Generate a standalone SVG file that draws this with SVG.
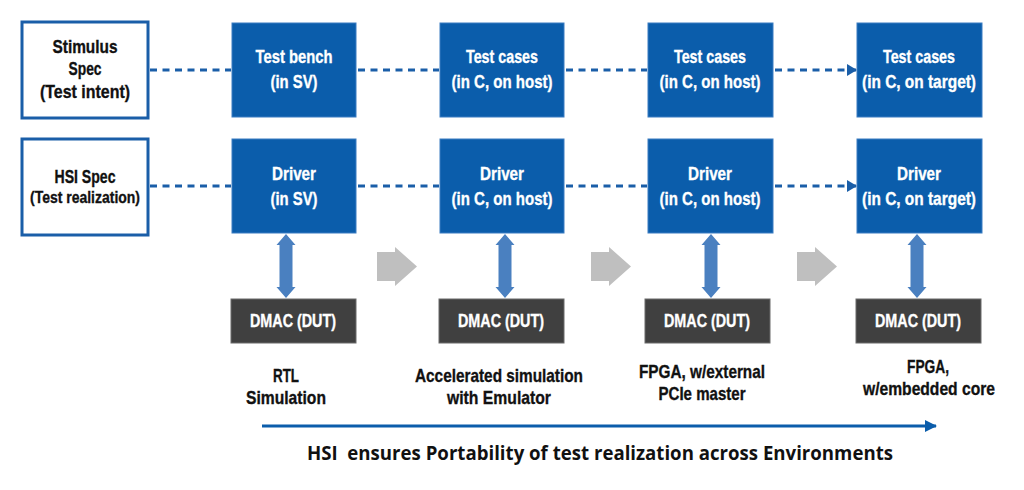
<svg xmlns="http://www.w3.org/2000/svg" width="1024" height="490" viewBox="0 0 1024 490">
<defs>
<style>
.spec{fill:#fff;stroke:#1a5ea8;stroke-width:3}
.blue{fill:#0b5dab;stroke:#3b7cc2;stroke-width:1}
.dut{fill:#404040;stroke:#6a6a6a;stroke-width:1}
.t{font-family:"Liberation Sans",Arial,sans-serif;font-weight:bold;text-anchor:middle}
.w{fill:#fff;stroke:#fff;stroke-width:0.35;font-size:19px}
.k{fill:#111;stroke:#111;stroke-width:0.35;font-size:19px}
.dash{stroke:#1a5ea8;stroke-width:3;stroke-dasharray:7 5.5;fill:none}
.dbl{fill:#4a80c0}
.gray{fill:#bfbfbf}
</style>
<marker id="ah" markerWidth="10" markerHeight="12" refX="9" refY="6" orient="auto" markerUnits="userSpaceOnUse">
<path d="M0,0 L10,6 L0,12 Z" fill="#1a5ea8"/>
</marker>
<marker id="ah2" markerWidth="12" markerHeight="12" refX="11" refY="6" orient="auto" markerUnits="userSpaceOnUse">
<path d="M0,0 L12,6 L0,12 Z" fill="#0b5dab"/>
</marker>
</defs>
<rect width="1024" height="490" fill="#fff"/>

<g id="connectors">
<line class="dash" x1="150" y1="70" x2="231" y2="70"/>
<line class="dash" x1="358" y1="70" x2="439" y2="70"/>
<line class="dash" x1="566" y1="70" x2="647" y2="70"/>
<line class="dash" x1="775" y1="70" x2="856" y2="70" marker-end="url(#ah)"/>
<line class="dash" x1="150" y1="186" x2="231" y2="186"/>
<line class="dash" x1="358" y1="186" x2="439" y2="186"/>
<line class="dash" x1="566" y1="186" x2="647" y2="186"/>
<line class="dash" x1="775" y1="186" x2="856" y2="186" marker-end="url(#ah)"/>
<path class="dbl" d="M286,234 L295.5,245 L292.5,245 L292.5,287 L295.5,287 L286,298 L276.5,287 L279.5,287 L279.5,245 L276.5,245 Z"/>
<path class="dbl" d="M505,234 L514.5,245 L511.5,245 L511.5,287 L514.5,287 L505,298 L495.5,287 L498.5,287 L498.5,245 L495.5,245 Z"/>
<path class="dbl" d="M711,234 L720.5,245 L717.5,245 L717.5,287 L720.5,287 L711,298 L701.5,287 L704.5,287 L704.5,245 L701.5,245 Z"/>
<path class="dbl" d="M917,234 L926.5,245 L923.5,245 L923.5,287 L926.5,287 L917,298 L907.5,287 L910.5,287 L910.5,245 L907.5,245 Z"/>
<path class="gray" d="M377,252 L395,252 L395,247 L417,266.5 L395,286 L395,281 L377,281 Z"/>
<path class="gray" d="M591,252 L609,252 L609,247 L631,266.5 L609,286 L609,281 L591,281 Z"/>
<path class="gray" d="M797,252 L815,252 L815,247 L837,266.5 L815,286 L815,281 L797,281 Z"/>
<line x1="262" y1="426" x2="936" y2="426" stroke="#0b5dab" stroke-width="3" marker-end="url(#ah2)"/>
</g>

<g id="stimulus-spec">
<rect class="spec" x="22" y="22" width="126" height="96"/>
<text class="t k" x="85" y="53" textLength="65" lengthAdjust="spacingAndGlyphs">Stimulus</text>
<text class="t k" x="85" y="75" textLength="33" lengthAdjust="spacingAndGlyphs">Spec</text>
<text class="t k" x="85" y="98" textLength="90" lengthAdjust="spacingAndGlyphs">(Test intent)</text>
</g>
<g id="hsi-spec">
<rect class="spec" x="22" y="139" width="126" height="96"/>
<text class="t k" x="85" y="183" textLength="61" lengthAdjust="spacingAndGlyphs">HSI Spec</text>
<text class="t k" x="85" y="203" style="font-size:17px" textLength="110" lengthAdjust="spacingAndGlyphs">(Test realization)</text>
</g>

<g id="testbench">
<rect class="blue" x="232" y="23" width="124" height="94"/>
<text class="t w" x="294" y="63" textLength="77" lengthAdjust="spacingAndGlyphs">Test bench</text>
<text class="t w" x="294" y="88" textLength="47" lengthAdjust="spacingAndGlyphs">(in SV)</text>
</g>
<g id="testcases-host1">
<rect class="blue" x="440" y="23" width="124" height="94"/>
<text class="t w" x="502" y="63" textLength="72" lengthAdjust="spacingAndGlyphs">Test cases</text>
<text class="t w" x="502" y="88" textLength="101" lengthAdjust="spacingAndGlyphs">(in C, on host)</text>
</g>
<g id="testcases-host2">
<rect class="blue" x="648" y="23" width="125" height="94"/>
<text class="t w" x="710" y="63" textLength="72" lengthAdjust="spacingAndGlyphs">Test cases</text>
<text class="t w" x="710" y="88" textLength="101" lengthAdjust="spacingAndGlyphs">(in C, on host)</text>
</g>
<g id="testcases-target">
<rect class="blue" x="857" y="23" width="125" height="94"/>
<text class="t w" x="919" y="63" textLength="72" lengthAdjust="spacingAndGlyphs">Test cases</text>
<text class="t w" x="919" y="88" textLength="114" lengthAdjust="spacingAndGlyphs">(in C, on target)</text>
</g>

<g id="driver-sv">
<rect class="blue" x="232" y="139" width="124" height="94"/>
<text class="t w" x="294" y="180" textLength="44" lengthAdjust="spacingAndGlyphs">Driver</text>
<text class="t w" x="294" y="205" textLength="47" lengthAdjust="spacingAndGlyphs">(in SV)</text>
</g>
<g id="driver-host1">
<rect class="blue" x="440" y="139" width="124" height="94"/>
<text class="t w" x="502" y="180" textLength="44" lengthAdjust="spacingAndGlyphs">Driver</text>
<text class="t w" x="502" y="205" textLength="101" lengthAdjust="spacingAndGlyphs">(in C, on host)</text>
</g>
<g id="driver-host2">
<rect class="blue" x="648" y="139" width="125" height="94"/>
<text class="t w" x="710" y="180" textLength="44" lengthAdjust="spacingAndGlyphs">Driver</text>
<text class="t w" x="710" y="205" textLength="101" lengthAdjust="spacingAndGlyphs">(in C, on host)</text>
</g>
<g id="driver-target">
<rect class="blue" x="857" y="139" width="125" height="94"/>
<text class="t w" x="919" y="180" textLength="44" lengthAdjust="spacingAndGlyphs">Driver</text>
<text class="t w" x="919" y="205" textLength="114" lengthAdjust="spacingAndGlyphs">(in C, on target)</text>
</g>

<g id="dut1">
<rect class="dut" x="231" y="299" width="125" height="44"/>
<text class="t w" x="293" y="327" style="font-size:18px" textLength="86" lengthAdjust="spacingAndGlyphs">DMAC (DUT)</text>
</g>
<g id="dut2">
<rect class="dut" x="439" y="299" width="125" height="44"/>
<text class="t w" x="501" y="327" style="font-size:18px" textLength="86" lengthAdjust="spacingAndGlyphs">DMAC (DUT)</text>
</g>
<g id="dut3">
<rect class="dut" x="645" y="299" width="125" height="44"/>
<text class="t w" x="707" y="327" style="font-size:18px" textLength="86" lengthAdjust="spacingAndGlyphs">DMAC (DUT)</text>
</g>
<g id="dut4">
<rect class="dut" x="856" y="299" width="125" height="44"/>
<text class="t w" x="918" y="327" style="font-size:18px" textLength="86" lengthAdjust="spacingAndGlyphs">DMAC (DUT)</text>
</g>

<g id="labels">
<text class="t k" x="286" y="382" textLength="26" lengthAdjust="spacingAndGlyphs">RTL</text>
<text class="t k" x="286" y="404" textLength="80" lengthAdjust="spacingAndGlyphs">Simulation</text>
<text class="t k" x="499" y="382" textLength="168" lengthAdjust="spacingAndGlyphs">Accelerated simulation</text>
<text class="t k" x="499" y="404" textLength="104" lengthAdjust="spacingAndGlyphs">with Emulator</text>
<text class="t k" x="702" y="378" textLength="126" lengthAdjust="spacingAndGlyphs">FPGA, w/external</text>
<text class="t k" x="702" y="400" textLength="87" lengthAdjust="spacingAndGlyphs">PCIe master</text>
<text class="t k" x="928" y="373" textLength="42" lengthAdjust="spacingAndGlyphs">FPGA,</text>
<text class="t k" x="929" y="395" textLength="132" lengthAdjust="spacingAndGlyphs">w/embedded core</text>
<text x="600" y="460" style="font-family:'Open Sans','Liberation Sans',sans-serif;font-weight:bold;font-size:19px;text-anchor:middle;fill:#111" textLength="586" lengthAdjust="spacingAndGlyphs" xml:space="preserve">HSI  ensures Portability of test realization across Environments</text>
</g>
</svg>
